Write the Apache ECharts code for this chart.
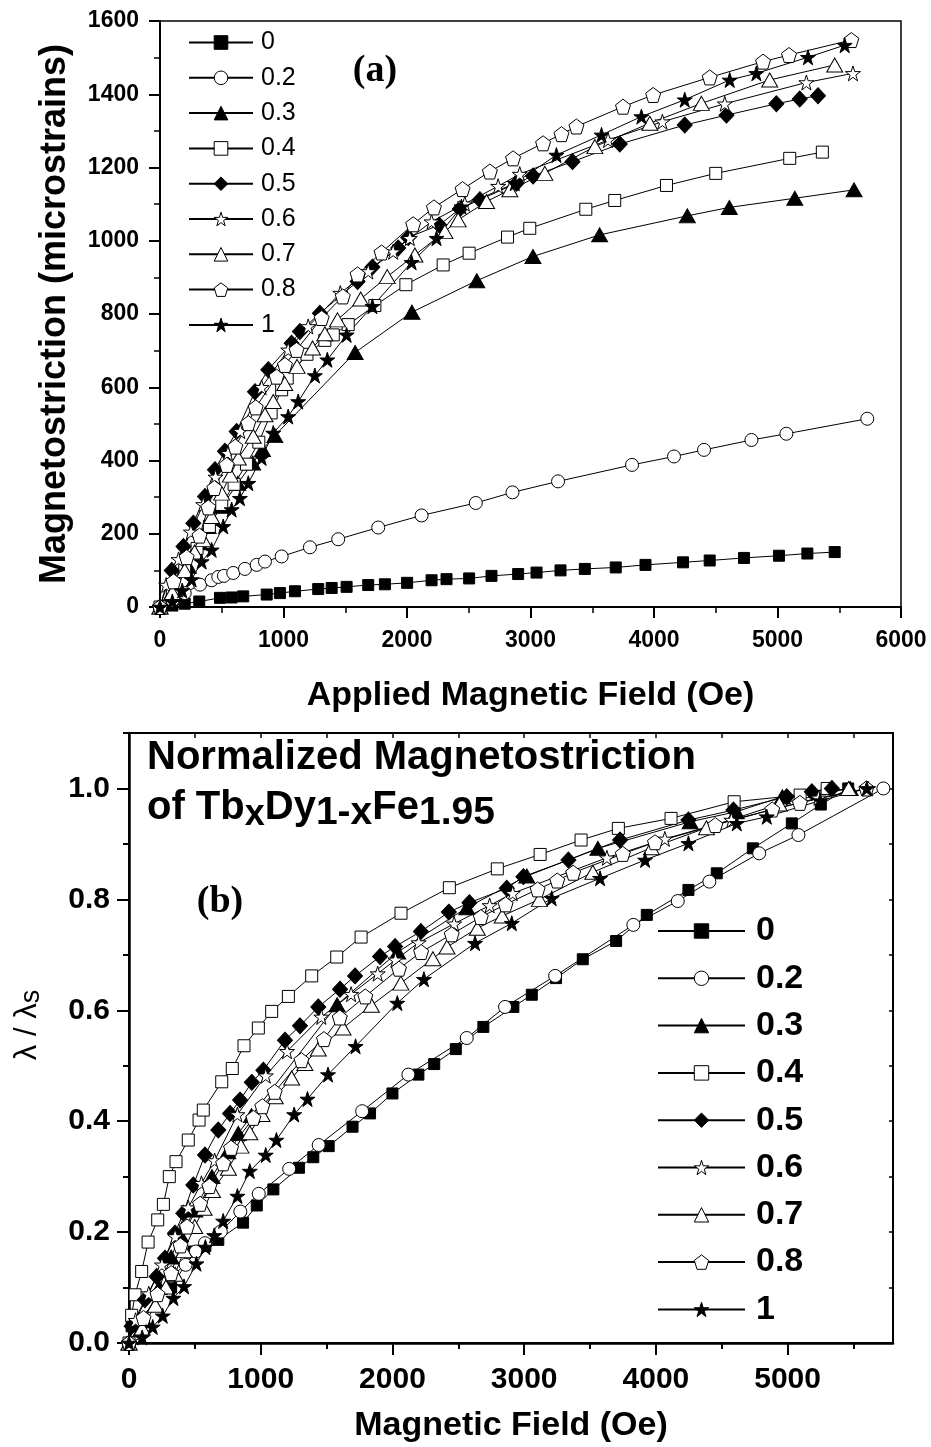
<!DOCTYPE html>
<html><head><meta charset="utf-8">
<script src="https://cdn.jsdelivr.net/npm/echarts@6/dist/echarts.min.js"></script>
<style>html,body{margin:0;padding:0;background:#fff}#c{width:931px;height:1447px}</style>
</head><body><div id="c"></div><script>
// ---------- series names (Tb content x) ----------
const names = ['0','0.2','0.3','0.4','0.5','0.6','0.7','0.8','1'];

// ---------- panel (a): [field Oe, magnetostriction microstrain] ----------
const a_0  = [[0,0],[100,4],[200,9],[318,15],[486,25],[580,26],[674,29],[864,34],[971,38],[1093,43],[1281,49],[1390,52],[1511,55],[1686,60],[1821,62],[2001,66],[2199,73],[2320,76],[2503,78],[2684,85],[2900,90],[3049,94],[3243,100],[3440,104],[3690,108],[3931,115],[4235,122],[4451,127],[4729,134],[5012,140],[5242,146],[5463,150]];
const a_02 = [[0,0],[100,18],[200,38],[324,61],[418,73],[472,82],[518,85],[593,93],[688,104],[783,115],[850,124],[985,138],[1214,163],[1443,185],[1767,217],[2118,250],[2557,284],[2854,313],[3223,343],[3822,388],[4162,411],[4405,429],[4789,456],[5072,473],[5727,514]];
const a_03 = [[0,0],[120,47],[230,111],[320,175],[390,220],[500,275],[630,338],[750,393],[830,430],[930,468],[1580,695],[2040,805],[2565,891],[3020,957],[3560,1016],[4270,1068],[4610,1091],[5140,1116],[5620,1139]];
const a_04 = [[0,0],[100,45],[200,100],[300,160],[400,220],[500,280],[600,335],[700,390],[800,450],[900,530],[985,593],[1030,625],[1190,690],[1335,728],[1403,743],[1524,771],[1740,823],[1991,880],[2293,934],[2503,966],[2814,1010],[2994,1034],[3448,1086],[3682,1110],[4101,1151],[4500,1184],[5099,1225],[5363,1242]];
const a_05 = [[0,0],[95,100],[190,165],[270,229],[364,302],[445,375],[526,425],[621,479],[769,588],[877,648],[1066,720],[1133,752],[1295,802],[1600,889],[1720,928],[1929,980],[2010,1009],[2261,1043],[2428,1087],[2590,1112],[2887,1157],[3021,1177],[3340,1216],[3723,1264],[4249,1316],[4587,1343],[4991,1374],[5180,1387],[5328,1396]];
const a_06 = [[0,0],[50,60],[150,130],[250,205],[350,280],[450,355],[550,420],[650,480],[823,600],[1038,702],[1200,766],[1460,857],[1686,916],[1888,970],[2023,1007],[2199,1052],[2468,1101],[2738,1149],[2913,1182],[3628,1275],[4068,1325],[4573,1374],[5234,1432],[5611,1457]];
const a_07 = [[0,0],[100,40],[200,100],[280,150],[350,184],[418,247],[499,311],[570,360],[634,407],[755,466],[850,525],[917,561],[1010,610],[1110,657],[1235,707],[1335,746],[1437,784],[1625,841],[1840,902],[2064,961],[2307,1025],[2414,1057],[2644,1107],[2833,1139],[3116,1184],[3521,1257],[3966,1321],[4384,1375],[4937,1439],[5463,1480]];
const a_08 = [[0,0],[110,70],[216,136],[320,195],[391,272],[440,325],[540,388],[610,438],[715,502],[775,545],[944,629],[1012,661],[1106,702],[1309,789],[1480,848],[1600,908],[1794,968],[2050,1045],[2218,1091],[2450,1141],[2671,1189],[2859,1225],[3102,1266],[3251,1291],[3372,1312],[3749,1366],[3993,1398],[4451,1446],[4883,1489],[5093,1507],[5598,1548]];
const a_1  = [[0,0],[100,15],[180,45],[256,75],[337,124],[418,156],[512,220],[580,266],[647,297],[715,338],[823,407],[917,475],[1038,520],[1119,561],[1254,632],[1355,675],[1511,743],[1720,821],[2037,941],[2239,1007],[2441,1093],[2873,1157],[3210,1234],[3575,1289],[3898,1339],[4249,1385],[4613,1439],[4829,1457],[5247,1501],[5544,1534]];

// ---------- panel (b): [field Oe, lambda / lambda_s] ----------
const b_0  = [[0,0],[20,0.03],[320,0.1],[490,0.165],[580,0.175],[678,0.186],[866,0.217],[970,0.248],[1096,0.277],[1290,0.316],[1399,0.335],[1516,0.355],[1697,0.39],[1830,0.414],[2000,0.45],[2197,0.484],[2317,0.503],[2481,0.53],[2690,0.57],[2918,0.606],[3058,0.628],[3242,0.658],[3445,0.692],[3698,0.725],[3931,0.772],[4247,0.817],[4462,0.847],[4736,0.892],[5032,0.937],[5252,0.971],[5460,1.0]];
const b_02 = [[0,0],[320,0.12],[430,0.141],[507,0.165],[577,0.18],[697,0.201],[845,0.237],[985,0.269],[1216,0.314],[1440,0.357],[1770,0.418],[2121,0.484],[2564,0.55],[2855,0.606],[3235,0.662],[3829,0.754],[4166,0.797],[4406,0.832],[4784,0.883],[5082,0.916],[5727,1.0]];
const b_03 = [[0,0],[120,0.04],[230,0.1],[320,0.155],[390,0.195],[500,0.24],[630,0.3],[750,0.345],[830,0.378],[930,0.41],[1580,0.61],[2040,0.705],[2565,0.785],[3020,0.842],[3560,0.892],[4260,0.94],[4610,0.958],[4960,0.985],[5475,1.0]];
const b_04 = [[0,0],[20,0.05],[46,0.087],[96,0.129],[145,0.182],[218,0.222],[261,0.25],[306,0.3],[357,0.327],[450,0.366],[532,0.402],[564,0.42],[704,0.471],[784,0.495],[873,0.536],[982,0.568],[1083,0.598],[1210,0.625],[1387,0.662],[1577,0.696],[1762,0.732],[2065,0.775],[2432,0.821],[2796,0.855],[3121,0.881],[3432,0.907],[3715,0.928],[4115,0.946],[4594,0.976],[5095,0.988],[5300,1.0]];
const b_05 = [[0,0],[20,0.03],[121,0.078],[210,0.12],[273,0.153],[349,0.198],[412,0.234],[488,0.285],[577,0.339],[678,0.384],[767,0.414],[843,0.438],[932,0.47],[1020,0.492],[1184,0.546],[1298,0.572],[1437,0.606],[1602,0.638],[1716,0.662],[1906,0.697],[2020,0.715],[2216,0.742],[2428,0.777],[2584,0.794],[2868,0.82],[2994,0.841],[3336,0.871],[3728,0.907],[4247,0.943],[4589,0.961],[4994,0.985],[5184,0.994],[5336,1.0]];
const b_06 = [[0,0],[50,0.041],[150,0.089],[250,0.141],[350,0.192],[450,0.244],[550,0.288],[650,0.329],[823,0.412],[1038,0.482],[1200,0.526],[1460,0.588],[1686,0.629],[1888,0.666],[2023,0.691],[2199,0.722],[2468,0.756],[2738,0.789],[2913,0.811],[3628,0.875],[4068,0.909],[4573,0.943],[5234,0.983],[5611,1.0]];
const b_07 = [[0,0],[100,0.027],[200,0.068],[280,0.101],[350,0.124],[418,0.167],[499,0.21],[570,0.243],[634,0.275],[755,0.315],[850,0.355],[917,0.379],[1010,0.412],[1110,0.444],[1235,0.478],[1335,0.504],[1437,0.53],[1625,0.568],[1840,0.609],[2064,0.649],[2307,0.693],[2414,0.714],[2644,0.748],[2833,0.77],[3116,0.8],[3521,0.849],[3966,0.893],[4384,0.929],[4937,0.972],[5463,1.0]];
const b_08 = [[0,0],[110,0.045],[216,0.088],[320,0.126],[391,0.176],[440,0.21],[540,0.251],[610,0.283],[715,0.324],[775,0.352],[944,0.406],[1012,0.427],[1106,0.453],[1309,0.51],[1480,0.548],[1600,0.587],[1794,0.625],[2050,0.675],[2218,0.705],[2450,0.737],[2671,0.768],[2859,0.791],[3102,0.818],[3251,0.834],[3372,0.848],[3749,0.882],[3993,0.903],[4451,0.934],[4883,0.962],[5093,0.974],[5598,1.0]];
const b_1  = [[0,0],[100,0.01],[180,0.029],[256,0.049],[337,0.081],[418,0.102],[512,0.143],[580,0.173],[647,0.194],[715,0.22],[823,0.265],[917,0.31],[1038,0.339],[1119,0.366],[1254,0.412],[1355,0.44],[1511,0.484],[1720,0.535],[2037,0.613],[2239,0.656],[2627,0.721],[2906,0.757],[3209,0.802],[3576,0.838],[3918,0.871],[4247,0.901],[4614,0.937],[4842,0.949],[5247,0.978],[5601,1.0]];

// ---------- tick positions ----------
const bXMajor = [0,1000,2000,3000,4000,5000];
const bXMinor = [500,1500,2500,3500,4500,5500];
const bYMajor = [0,0.2,0.4,0.6,0.8,1.0];
const bYMinor = [0.1,0.3,0.5,0.7,0.9,1.1];

const dataA = [a_0,a_02,a_03,a_04,a_05,a_06,a_07,a_08,a_1];
const dataB = [b_0,b_02,b_03,b_04,b_05,b_06,b_07,b_08,b_1];

const STAR = 'path://M50 0L61.23 34.55L97.55 34.55L68.17 55.9L79.39 90.45L50 69.1L20.61 90.45L31.83 55.9L2.45 34.55L38.77 34.55Z';
const PENT = 'path://M50 0L97.55 34.55L79.39 90.45L20.61 90.45L2.45 34.55Z';
const marks = [
  {symbol:'rect', fill:'#000', size:[11,11]},
  {symbol:'circle', fill:'#fff', size:[13,13]},
  {symbol:'triangle', fill:'#000', size:[16,14]},
  {symbol:'rect', fill:'#fff', size:[12,12]},
  {symbol:'diamond', fill:'#000', size:[15,16]},
  {symbol:STAR, fill:'#fff', size:[15,15]},
  {symbol:'triangle', fill:'#fff', size:[16,14]},
  {symbol:PENT, fill:'#fff', size:[15,15]},
  {symbol:STAR, fill:'#000', size:[15,15]}
];

const FF = "'Liberation Sans', Arial, sans-serif";
const black = '#000';
const plain = v => String(v);

function mkSeries(data, xi, yi) {
  return names.map((n, i) => ({
    name: n, type: 'line', xAxisIndex: xi, yAxisIndex: yi, data: data[i],
    symbol: marks[i].symbol, symbolSize: marks[i].size,
    itemStyle: {color: marks[i].fill, borderColor: black, borderWidth: 1},
    lineStyle: {color: black, width: 1},
    emphasis: {disabled: true},
    animation: false
  }));
}

const chart = echarts.init(document.getElementById('c'), null, {renderer: 'canvas'});
chart.setOption({
  backgroundColor: '#fff',
  animation: false,
  grid: [
    {left: 160, top: 21, width: 741, height: 586, show: true, borderColor: black, borderWidth: 1.5},
    {left: 129, top: 733, width: 764, height: 610, show: true, borderColor: black, borderWidth: 2}
  ],
  legend: [
    {data: names, orient: 'vertical', left: 188, top: 30, padding: 0, itemWidth: 64, itemHeight: 17, itemGap: 10.3,
     selectedMode: false, itemStyle: {borderWidth: 1},
     textStyle: {fontFamily: FF, fontSize: 25, color: black, padding: [0, 0, 0, 3]}},
    {data: names, orient: 'vertical', left: 657, top: 914, padding: 0, itemWidth: 87, itemHeight: 18, itemGap: 13.3,
     selectedMode: false, itemStyle: {borderWidth: 1},
     textStyle: {fontFamily: FF, fontSize: 34, fontWeight: 'bold', color: black, padding: [0, 0, 0, 6]}}
  ],
  xAxis: [
    {gridIndex: 0, type: 'value', min: 0, max: 6000, interval: 1000, position: 'bottom',
     axisLine: {onZero: false, lineStyle: {color: black, width: 2}},
     axisTick: {length: 11, lineStyle: {color: black, width: 2}},
     minorTick: {show: true, splitNumber: 2, length: 6, lineStyle: {color: black, width: 1.5}},
     axisLabel: {fontFamily: FF, fontWeight: 'bold', fontSize: 23, color: black, margin: 22, formatter: plain},
     splitLine: {show: false},
     name: 'Applied Magnetic Field (Oe)', nameLocation: 'middle', nameGap: 72,
     nameTextStyle: {fontFamily: FF, fontWeight: 'bold', fontSize: 34, color: black}},
    {gridIndex: 1, type: 'value', min: 0, max: 5800, interval: 1000, position: 'bottom',
     axisLine: {onZero: false, lineStyle: {color: black, width: 2.5}},
     axisTick: {length: 12, customValues: bXMajor, lineStyle: {color: black, width: 2}},
     axisLabel: {customValues: bXMajor, fontFamily: FF, fontWeight: 'bold', fontSize: 30, color: black, margin: 22, formatter: plain},
     splitLine: {show: false},
     name: 'Magnetic Field (Oe)', nameLocation: 'middle', nameGap: 66,
     nameTextStyle: {fontFamily: FF, fontWeight: 'bold', fontSize: 34, color: black}},
    {gridIndex: 1, type: 'value', min: 0, max: 5800, interval: 500, position: 'bottom',
     axisLine: {show: false, onZero: false},
     axisTick: {length: 6, customValues: bXMinor, lineStyle: {color: black, width: 2}},
     axisLabel: {show: false}, splitLine: {show: false}},
    {gridIndex: 1, type: 'value', min: 0, max: 5800, interval: 500, position: 'top',
     axisLine: {onZero: false, lineStyle: {color: black, width: 2}},
     axisTick: {inside: true, length: 5, lineStyle: {color: black, width: 1.5}},
     axisLabel: {show: false}, splitLine: {show: false}}
  ],
  yAxis: [
    {gridIndex: 0, type: 'value', min: 0, max: 1600, interval: 200, position: 'left',
     axisLine: {onZero: false, lineStyle: {color: black, width: 2}},
     axisTick: {length: 11, lineStyle: {color: black, width: 2}},
     minorTick: {show: true, splitNumber: 2, length: 6, lineStyle: {color: black, width: 1.5}},
     axisLabel: {fontFamily: FF, fontWeight: 'bold', fontSize: 23, color: black, margin: 21, formatter: plain},
     splitLine: {show: false},
     name: 'Magnetostriction (microstrains)', nameLocation: 'middle', nameGap: 87,
     nameTextStyle: {fontFamily: FF, fontWeight: 'bold', fontSize: 36, color: black}},
    {gridIndex: 1, type: 'value', min: 0, max: 1.1, interval: 0.2, position: 'left',
     axisLine: {onZero: false, lineStyle: {color: black, width: 2.5}},
     axisTick: {length: 12, customValues: bYMajor, lineStyle: {color: black, width: 2}},
     axisLabel: {customValues: bYMajor, fontFamily: FF, fontWeight: 'bold', fontSize: 30, color: black, margin: 19,
       formatter: v => v.toFixed(1)},
     splitLine: {show: false},
     name: '{n|λ / λ}{s|s}', nameLocation: 'middle', nameGap: 84,
     nameTextStyle: {padding: [0, 0, 0, 26], color: black,
       rich: {n: {fontFamily: FF, fontSize: 31, lineHeight: 36, verticalAlign: 'middle', color: black},
              s: {fontFamily: FF, fontSize: 27, lineHeight: 22, verticalAlign: 'bottom', color: black}}}},
    {gridIndex: 1, type: 'value', min: 0, max: 1.1, interval: 0.1, position: 'left',
     axisLine: {show: false, onZero: false},
     axisTick: {length: 6, customValues: bYMinor, lineStyle: {color: black, width: 2}},
     axisLabel: {show: false}, splitLine: {show: false}},
    {gridIndex: 1, type: 'value', min: 0, max: 1.1, interval: 0.1, position: 'right',
     axisLine: {onZero: false, lineStyle: {color: black, width: 2}},
     axisTick: {inside: true, length: 4, lineStyle: {color: black, width: 1.5}},
     axisLabel: {show: false}, splitLine: {show: false}}
  ],
  graphic: [
    {type: 'text', x: 375, y: 71, z: 100,
     style: {text: '(a)', fontFamily: "'Liberation Serif', 'Times New Roman', serif", fontWeight: 'bold', fontSize: 38, fill: black, align: 'center', verticalAlign: 'middle'}},
    {type: 'text', x: 220, y: 902, z: 100,
     style: {text: '(b)', fontFamily: "'Liberation Serif', 'Times New Roman', serif", fontWeight: 'bold', fontSize: 38, fill: black, align: 'center', verticalAlign: 'middle'}},
    {type: 'text', x: 147, y: 733, z: 100,
     style: {text: '{t|Normalized Magnetostriction}\n{t|of Tb}{x|x}{t|Dy}{s|1-x}{t|Fe}{s|1.95}',
       fill: black, align: 'left', verticalAlign: 'top',
       rich: {t: {fontFamily: FF, fontWeight: 'bold', fontSize: 40, lineHeight: 50, verticalAlign: 'middle', fill: black},
              x: {fontFamily: FF, fontWeight: 'bold', fontSize: 36, lineHeight: 34, verticalAlign: 'bottom', fill: black},
              s: {fontFamily: FF, fontWeight: 'bold', fontSize: 39, lineHeight: 34, verticalAlign: 'bottom', fill: black}}}}
  ],
  series: mkSeries(dataA, 0, 0).concat(mkSeries(dataB, 1, 1))
});
</script></body></html>
